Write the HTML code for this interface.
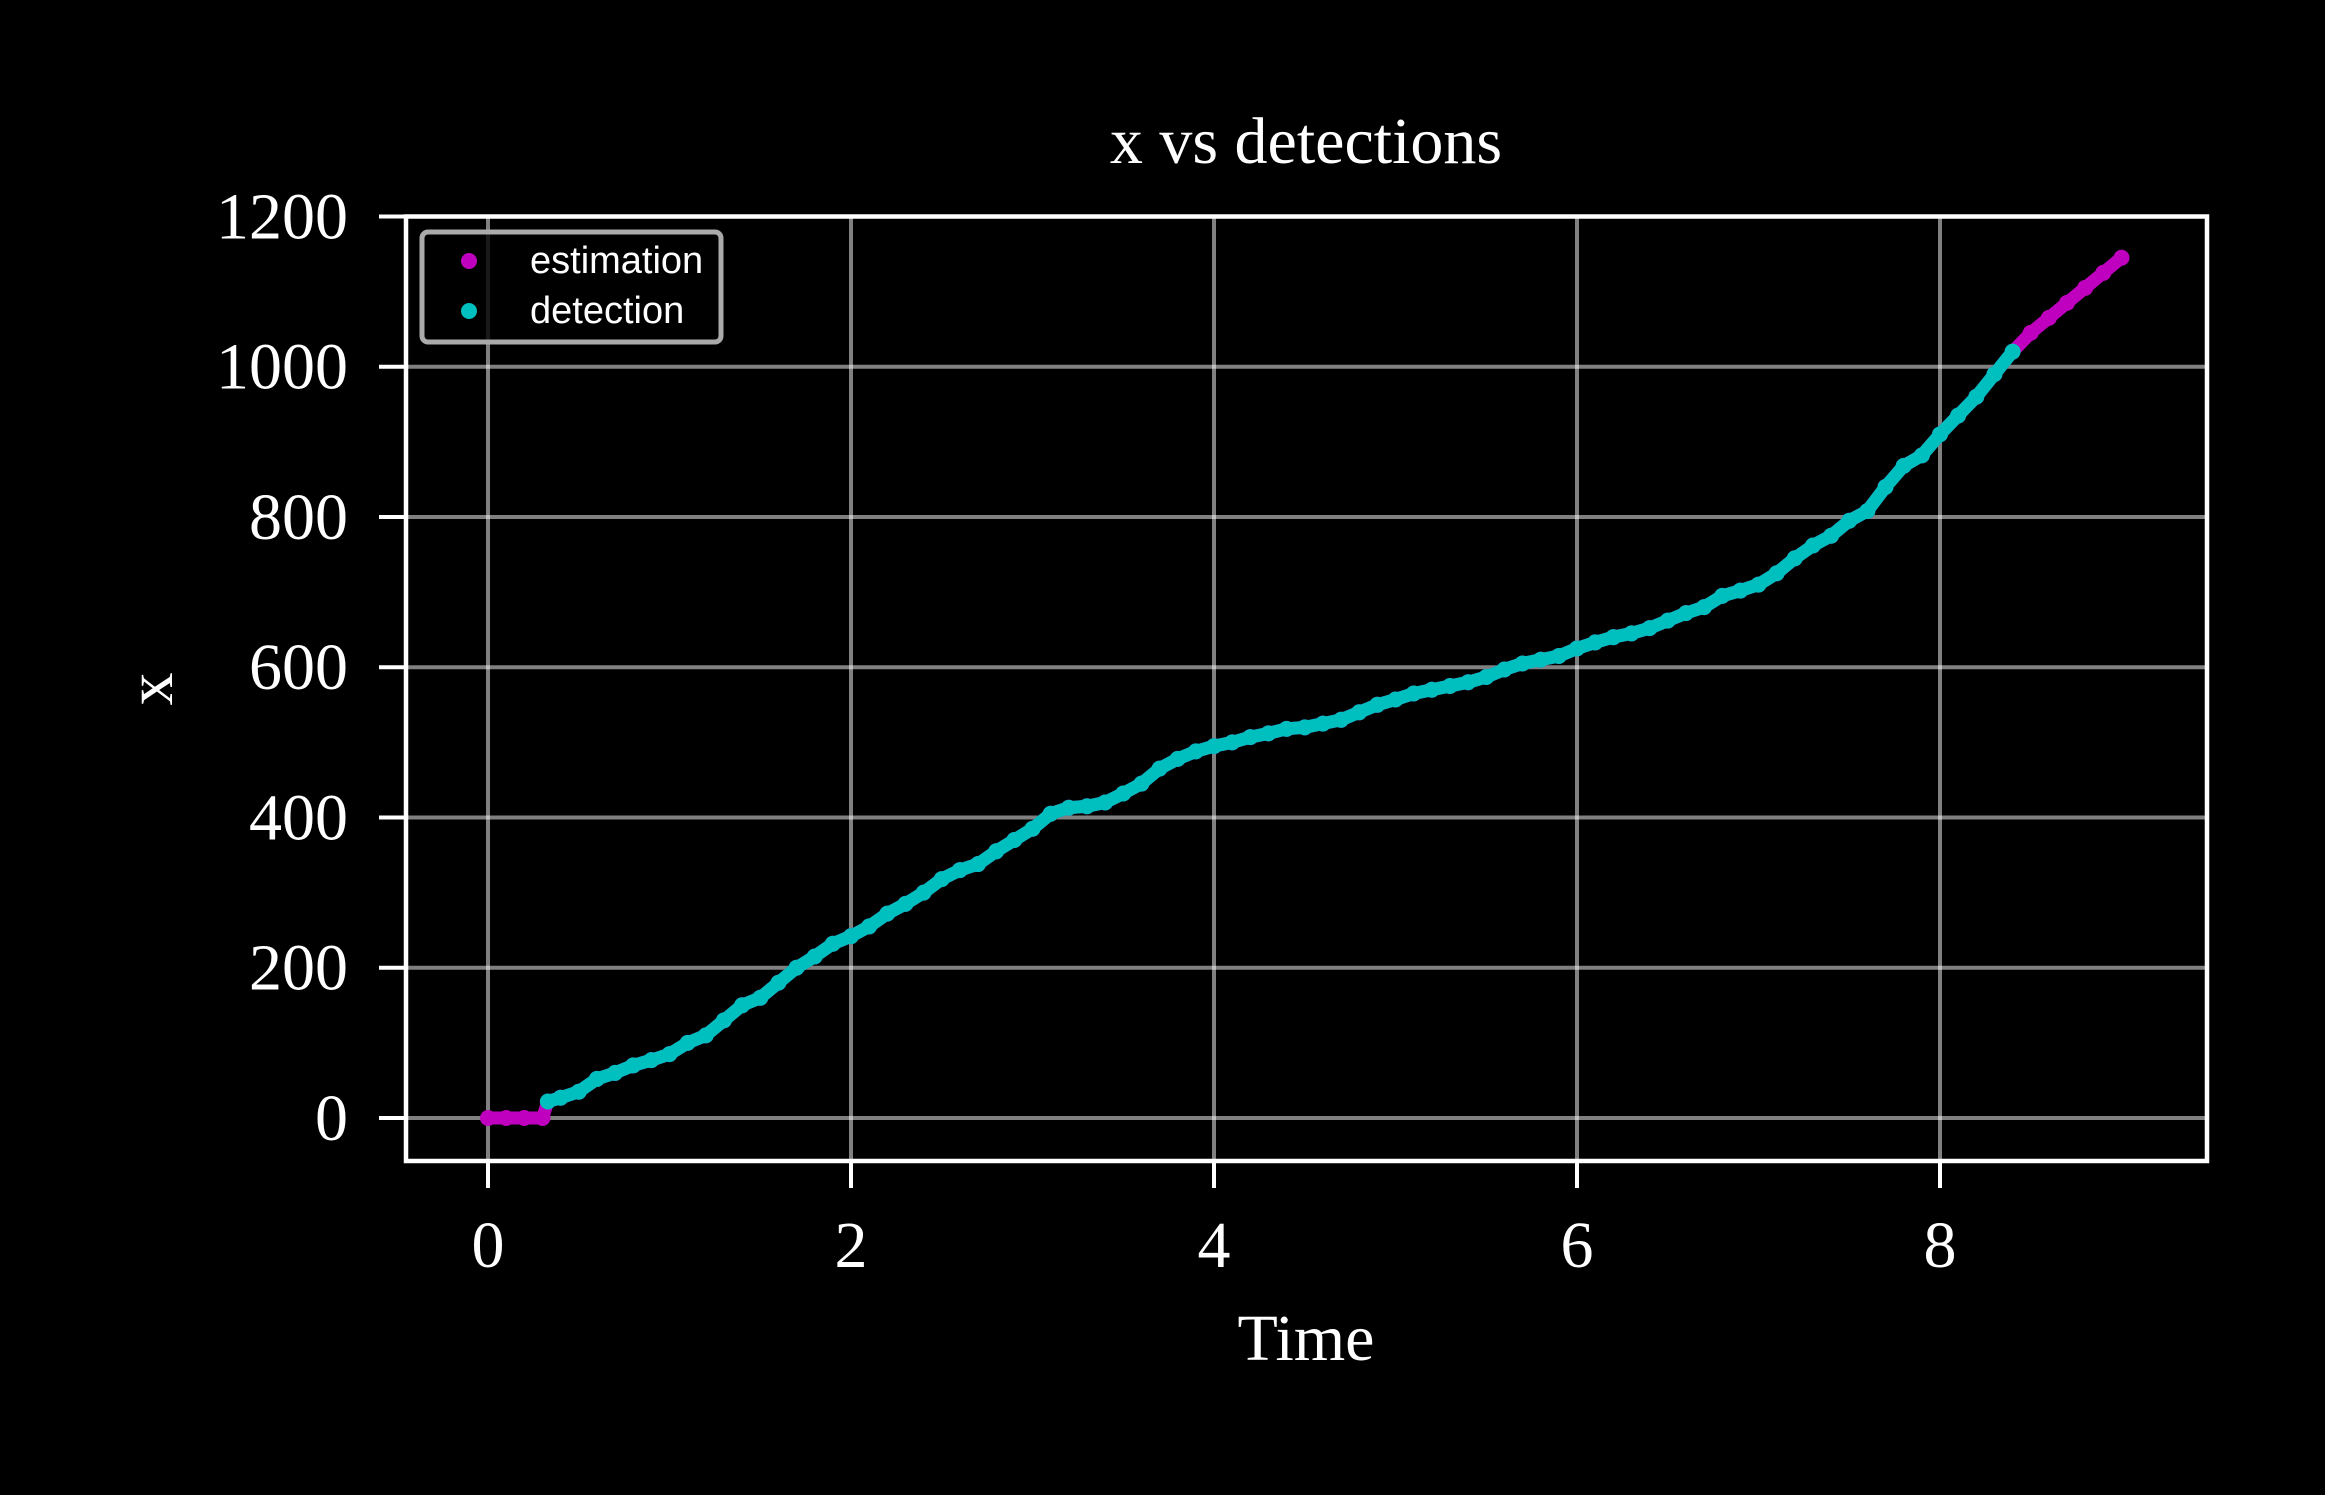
<!DOCTYPE html>
<html><head><meta charset="utf-8"><style>
html,body{margin:0;padding:0;background:#000;}
svg{display:block;}
</style></head><body>
<svg id="chart" width="2325" height="1495" viewBox="0 0 2325 1495" xmlns="http://www.w3.org/2000/svg">
<rect width="2325" height="1495" fill="#000"/>
<g id="grid"></g>
<g id="marks"></g>
<rect x="406" y="216.5" width="1801" height="944.5" fill="none" stroke="#fff" stroke-width="4.5"/>
<g id="ticks"></g>
<text x="1306" y="163" font-family="Liberation Serif, serif" font-size="66" fill="#fff" text-anchor="middle">x vs detections</text>
<text x="1306" y="1360" font-family="Liberation Serif, serif" font-size="66" fill="#fff" text-anchor="middle">Time</text>
<text x="0" y="0" transform="translate(172,689) rotate(-90)" font-family="Liberation Serif, serif" font-size="66" fill="#fff" text-anchor="middle">x</text>
<g>
<rect x="422" y="232" width="299" height="110" rx="6" fill="#000" fill-opacity="0.8" stroke="#aaa" stroke-width="5"/>
<circle cx="469" cy="261" r="8" fill="#bf00bf"/>
<text x="530" y="273" font-family="Liberation Sans, sans-serif" font-size="38" fill="#fff">estimation</text>
<circle cx="469" cy="311" r="8" fill="#00bfbf"/>
<text x="530" y="323" font-family="Liberation Sans, sans-serif" font-size="38" fill="#fff">detection</text>
</g>
</svg>
<script>
const estTimes = [0,0.1,0.2,0.3,0.33,0.4,0.5,0.6,0.7,0.8,0.9,1.0,1.1,1.2,1.3,1.4,1.5,1.6,1.7,1.8,1.9,2.0,2.1,2.2,2.3,2.4,2.5,2.6,2.7,2.8,2.9,3.0,3.1,3.2,3.3,3.4,3.5,3.6,3.7,3.8,3.9,4.0,4.1,4.2,4.3,4.4,4.5,4.6,4.7,4.8,4.9,5.0,5.1,5.2,5.3,5.4,5.5,5.6,5.7,5.8,5.9,6.0,6.1,6.2,6.3,6.4,6.5,6.6,6.7,6.8,6.9,7.0,7.1,7.2,7.3,7.4,7.5,7.6,7.7,7.8,7.9,8.0,8.1,8.2,8.3,8.4,8.5,8.6,8.7,8.8,8.9,9.0];
const estValues = [0,0,0,0,22,27,35,52,60,70,77,85,100,110,130,150,160,180,200,215,232,242,255,272,285,300,318,330,338,355,370,385,405,413,415,420,432,445,465,478,488,495,500,507,512,518,520,525,530,540,550,557,565,570,575,580,587,597,605,610,615,625,633,640,645,652,662,672,680,695,702,710,725,745,762,775,795,808,840,868,882,910,935,960,990,1020,1045,1065,1085,1105,1125,1145];
const detTimes = [0.33,0.4,0.5,0.6,0.7,0.8,0.9,1.0,1.1,1.2,1.3,1.4,1.5,1.6,1.7,1.8,1.9,2.0,2.1,2.2,2.3,2.4,2.5,2.6,2.7,2.8,2.9,3.0,3.1,3.2,3.3,3.4,3.5,3.6,3.7,3.8,3.9,4.0,4.1,4.2,4.3,4.4,4.5,4.6,4.7,4.8,4.9,5.0,5.1,5.2,5.3,5.4,5.5,5.6,5.7,5.8,5.9,6.0,6.1,6.2,6.3,6.4,6.5,6.6,6.7,6.8,6.9,7.0,7.1,7.2,7.3,7.4,7.5,7.6,7.7,7.8,7.9,8.0,8.1,8.2,8.3,8.4];
const detValues = [22,27,35,52,60,70,77,85,100,110,130,150,160,180,200,215,232,242,255,272,285,300,318,330,338,355,370,385,405,413,415,420,432,445,465,478,488,495,500,507,512,518,520,525,530,540,550,557,565,570,575,580,587,597,605,610,615,625,633,640,645,652,662,672,680,695,702,710,725,745,762,775,795,808,840,868,882,910,935,960,990,1020];
const xTicks = [0,2,4,6,8];
const yTicks = [0,200,400,600,800,1000,1200];

const NS = 'http://www.w3.org/2000/svg';
const xs = t => 488 + t * 181.5;
const ys = v => 1118 - v * 0.7513;
function mk(tag, attrs, parent){ const e = document.createElementNS(NS, tag); for (const k in attrs) e.setAttribute(k, attrs[k]); parent.appendChild(e); return e; }
const grid = document.getElementById('grid'), marks = document.getElementById('marks'), ticks = document.getElementById('ticks');

xTicks.forEach(t => {
  const g = mk('line', {x1: xs(t), x2: xs(t), y1: 216.5, y2: 1161, stroke: '#fff', 'stroke-opacity': 0.5, 'stroke-width': 4}, grid);
  
  
  const tk = mk('line', {x1: xs(t), x2: xs(t), y1: 1161, y2: 1188, stroke: '#fff', 'stroke-width': 4}, ticks);
  
  
  const lb = mk('text', {x: xs(t), y: 1267, fill: '#fff', 'font-family': 'Liberation Serif, serif', 'font-size': 66, 'text-anchor': 'middle'}, ticks);
  lb.textContent = t;
  
  
});
yTicks.forEach(v => {
  const g = mk('line', {x1: 406, x2: 2207, y1: ys(v), y2: ys(v), stroke: '#fff', 'stroke-opacity': 0.5, 'stroke-width': 4}, grid);
  
  
  const tk = mk('line', {x1: 379, x2: 406, y1: ys(v), y2: ys(v), stroke: '#fff', 'stroke-width': 4}, ticks);
  
  
  const lb = mk('text', {x: 348, y: ys(v) + 22, fill: '#fff', 'font-family': 'Liberation Serif, serif', 'font-size': 66, 'text-anchor': 'end'}, ticks);
  lb.textContent = v;
  
  
});

function series(times, vals, color, name){
  const pts = times.map((t, i) => xs(t) + ',' + ys(vals[i])).join(' ');
  const pl = mk('polyline', {points: pts, fill: 'none', stroke: color, 'stroke-width': 13, 'stroke-linejoin': 'round', 'stroke-linecap': 'round'}, marks);
  
  
  times.forEach((t, i) => {
    const c = mk('circle', {cx: xs(t), cy: ys(vals[i]), r: 8, fill: color}, marks);
    
    
  });
}
series(estTimes, estValues, '#bf00bf', 'estimation');
series(detTimes, detValues, '#00bfbf', 'detection');
</script>
</body></html>
